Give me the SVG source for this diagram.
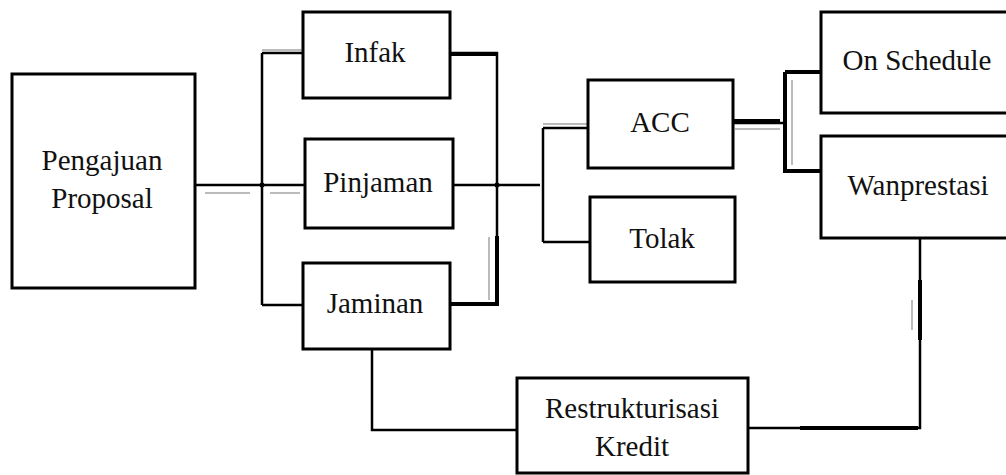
<svg xmlns="http://www.w3.org/2000/svg" width="1006" height="475" viewBox="0 0 1006 475">
<style>
.box{fill:#fff;stroke:#000;stroke-width:3}
.lbl{font-family:"Liberation Serif","Times New Roman",serif;font-size:29px;fill:#111;text-anchor:middle}
.con{fill:none;stroke:#000;stroke-width:2.5;stroke-linejoin:miter}
.thick{fill:none;stroke:#000;stroke-width:4}
.ghost{fill:none;stroke:#bbb;stroke-width:2}
</style>
<rect width="1006" height="475" fill="#fff"/>
<g id="connectors">
<path class="ghost" d="M205 193H250M270 193H300M262 50H303M489 237V300M735 129H780M792 80V165M543 124H588M912 300V330"/>
<path class="con" d="M195 185H305M262 53V305M262 53H303M262 305H303"/>
<path class="con" d="M453 185H540M450 53H497V304H451M543 128V242M543 128H588M543 242H590"/>
<path class="thick" d="M450 54H497M497 236V304H451"/>
<path class="con" d="M733 123H785M785 72V171M785 72H821M785 171H821"/>
<path class="thick" d="M733 121H780M785 72H821V72M785 72V171H821"/>
<path class="con" d="M372 349V430H517M920 238V428H748"/>
<path class="thick" d="M920 280V340M800 428H918"/>
<circle cx="262" cy="185" r="2.5"/>
<circle cx="497" cy="185" r="2.5"/>
</g>
<g id="node-pengajuan">
<rect class="box" x="12" y="74" width="183" height="214"/>
<text class="lbl" x="102" y="170">Pengajuan</text>
<text class="lbl" x="102" y="208">Proposal</text>
</g>
<g id="node-infak">
<rect class="box" x="303" y="12" width="147" height="86"/>
<text class="lbl" x="375" y="62">Infak</text>
</g>
<g id="node-pinjaman">
<rect class="box" x="305" y="139" width="148" height="89"/>
<text class="lbl" x="378" y="192">Pinjaman</text>
</g>
<g id="node-jaminan">
<rect class="box" x="303" y="263" width="147" height="86"/>
<text class="lbl" x="375" y="313">Jaminan</text>
</g>
<g id="node-acc">
<rect class="box" x="588" y="80" width="145" height="88"/>
<text class="lbl" x="660" y="132">ACC</text>
</g>
<g id="node-tolak">
<rect class="box" x="590" y="197" width="145" height="85"/>
<text class="lbl" x="662" y="248">Tolak</text>
</g>
<g id="node-onschedule">
<rect class="box" x="821" y="12" width="200" height="101"/>
<text class="lbl" x="917" y="70">On Schedule</text>
</g>
<g id="node-wanprestasi">
<rect class="box" x="821" y="136" width="200" height="102"/>
<text class="lbl" x="918" y="195">Wanprestasi</text>
</g>
<g id="node-restrukturisasi">
<rect class="box" x="517" y="378" width="231" height="95"/>
<text class="lbl" x="632" y="418">Restrukturisasi</text>
<text class="lbl" x="632" y="456">Kredit</text>
</g>
</svg>
